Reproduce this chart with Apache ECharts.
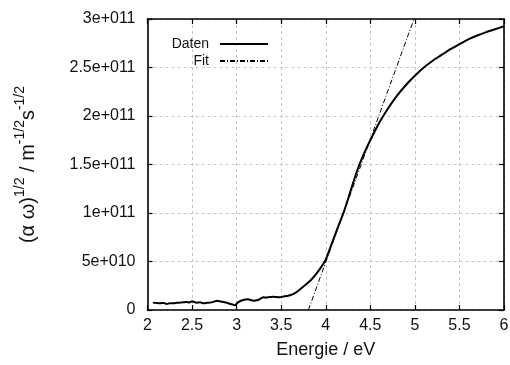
<!DOCTYPE html>
<html>
<head>
<meta charset="utf-8">
<script src="https://cdn.jsdelivr.net/npm/echarts@6/dist/echarts.min.js"></script>
<style>html,body{margin:0;padding:0;background:#fff}#c{width:510px;height:365px}</style>
</head>
<body>
<div id="c"></div>
<script>
// Energy (eV) of the measured curve
const datenEnergy = [2.06,2.10,2.14,2.18,2.215,2.25,2.29,2.33,2.365,2.40,2.44,2.47,2.50,
  2.55,2.59,2.63,2.67,2.70,2.74,2.78,2.82,2.85,2.89,2.93,2.96,2.98,3.00,
  3.02,3.05,3.075,3.10,3.13,3.16,3.19,3.22,3.24,3.27,3.30,3.33,3.356,3.38,3.41,3.45,3.487,
  3.52,3.56,3.60,3.65,3.70,3.75,3.80,3.85,3.90,3.95,4.00,4.05,4.10,4.15,4.20,4.25,4.30,4.35,4.40,4.45,4.50,
  4.6,4.7,4.8,4.9,5.0,5.1,5.2,5.3,5.4,5.5,5.6,5.7,5.8,5.9,6.0];
// (alpha omega)^1/2 of the measured curve, in units of 1e9
const datenValuesE9 = [7.6,7.2,6.9,7.3,6.2,7.0,6.9,7.4,7.6,7.9,8.2,7.8,8.9,
  7.6,7.9,6.9,7.4,7.6,8.4,9.6,8.8,8.2,7.4,6.2,5.5,4.8,6.5,
  8.2,9.5,10.3,10.8,11,10.2,9.6,10,10.3,11.8,13.1,12.8,13.1,13.5,13.7,13.3,13.1,
  13.8,14.4,15.2,17.2,20.3,24.2,28,32.5,38,44.5,52,64,76.5,88.5,100.5,114.5,129,143,155,165.5,175,
  193,208,221,232,241.5,250,257,263,269,274,279,283,286.5,289.5,292.5];
// Linear fit end points
const fitEnergy = [3.805, 4.99];
const fitValues = [0, 3e11];
// Tick labels
const xTickLabels = ['2','2.5','3','3.5','4','4.5','5','5.5','6'];
const yTickLabels = ['0','5e+010','1e+011','1.5e+011','2e+011','2.5e+011','3e+011'];
const seriesNames = ['Daten','Fit'];

const FONT = "'Liberation Sans', Arial, Helvetica, sans-serif";
const datenData = datenEnergy.map((e, i) => [e, datenValuesE9[i] * 1e9]);
const fitData = fitEnergy.map((e, i) => [e, fitValues[i]]);

const chart = echarts.init(document.getElementById('c'), null, {renderer: 'canvas'});
const gridLine = {show: true, lineStyle: {color: '#c4c4c4', type: [3, 3], width: 1}};
const frameLine = {show: true, onZero: false, lineStyle: {color: '#000', width: 1.6}};
const tick = {show: true, inside: true, length: 5, lineStyle: {color: '#000', width: 1.2}};

chart.setOption({
  animation: false,
  backgroundColor: '#fff',
  textStyle: {fontFamily: FONT, fontSize: 16},
  grid: {left: 147.5, right: 6, top: 19, bottom: 55, containLabel: false, outerBoundsMode: 'none'},
  legend: {
    data: seriesNames,
    orient: 'vertical',
    align: 'right',
    right: 236,
    top: 32,
    itemWidth: 48,
    itemHeight: 14,
    itemGap: 3,
    itemStyle: {opacity: 0},
    textStyle: {fontFamily: FONT, fontSize: 14, color: '#111', padding: [0, 6, 0, 0]}
  },
  xAxis: [{
    type: 'value', position: 'bottom', min: 2, max: 6, interval: 0.5,
    axisLine: frameLine, axisTick: tick, splitLine: gridLine,
    axisLabel: {show: true, showMinLabel: true, showMaxLabel: true, margin: 8, fontSize: 16, color: '#111', fontFamily: FONT,
      formatter: v => xTickLabels[Math.round((v - 2) / 0.5)]},
    name: 'Energie / eV', nameLocation: 'middle', nameGap: 31,
    nameTextStyle: {fontSize: 18, color: '#111', fontFamily: FONT}
  }, {
    type: 'value', position: 'top', min: 2, max: 6, interval: 0.5,
    axisLine: frameLine, axisTick: tick, splitLine: {show: false}, axisLabel: {show: false}
  }],
  yAxis: [{
    type: 'value', position: 'left', min: 0, max: 3e11, interval: 5e10,
    axisLine: frameLine, axisTick: tick, splitLine: gridLine,
    axisLabel: {show: true, showMinLabel: true, showMaxLabel: true, margin: 12, fontSize: 16, color: '#111', fontFamily: FONT,
      formatter: v => yTickLabels[Math.round(v / 5e10)]},
    name: '{n|(\u03b1 \u03c9)}{s|1/2}{n| / m}{s|-1/2}{n|s}{s|-1/2}',
    nameLocation: 'middle', nameGap: 107, nameRotate: 90,
    nameTextStyle: {
      fontFamily: FONT, color: '#111',
      rich: {
        n: {fontSize: 20, lineHeight: 24, fontFamily: FONT, color: '#111'},
        s: {fontSize: 14, lineHeight: 14, padding: [0, 0, 16, 0], fontFamily: FONT, color: '#111'}
      }
    }
  }, {
    type: 'value', position: 'right', min: 0, max: 3e11, interval: 5e10,
    axisLine: frameLine, axisTick: tick, splitLine: {show: false}, axisLabel: {show: false}
  }],
  series: [{
    name: seriesNames[0], type: 'line', data: datenData, xAxisIndex: 0, yAxisIndex: 0,
    showSymbol: false, symbol: 'none', smooth: 0.25,
    lineStyle: {color: '#000', width: 2}, itemStyle: {color: '#000'}, z: 3
  }, {
    name: seriesNames[1], type: 'line', data: fitData, xAxisIndex: 0, yAxisIndex: 0,
    showSymbol: false, symbol: 'none',
    lineStyle: {color: '#000', width: 1, type: [5, 2, 1, 2]}, itemStyle: {color: '#000'}, z: 2
  }]
});
</script>
</body>
</html>
